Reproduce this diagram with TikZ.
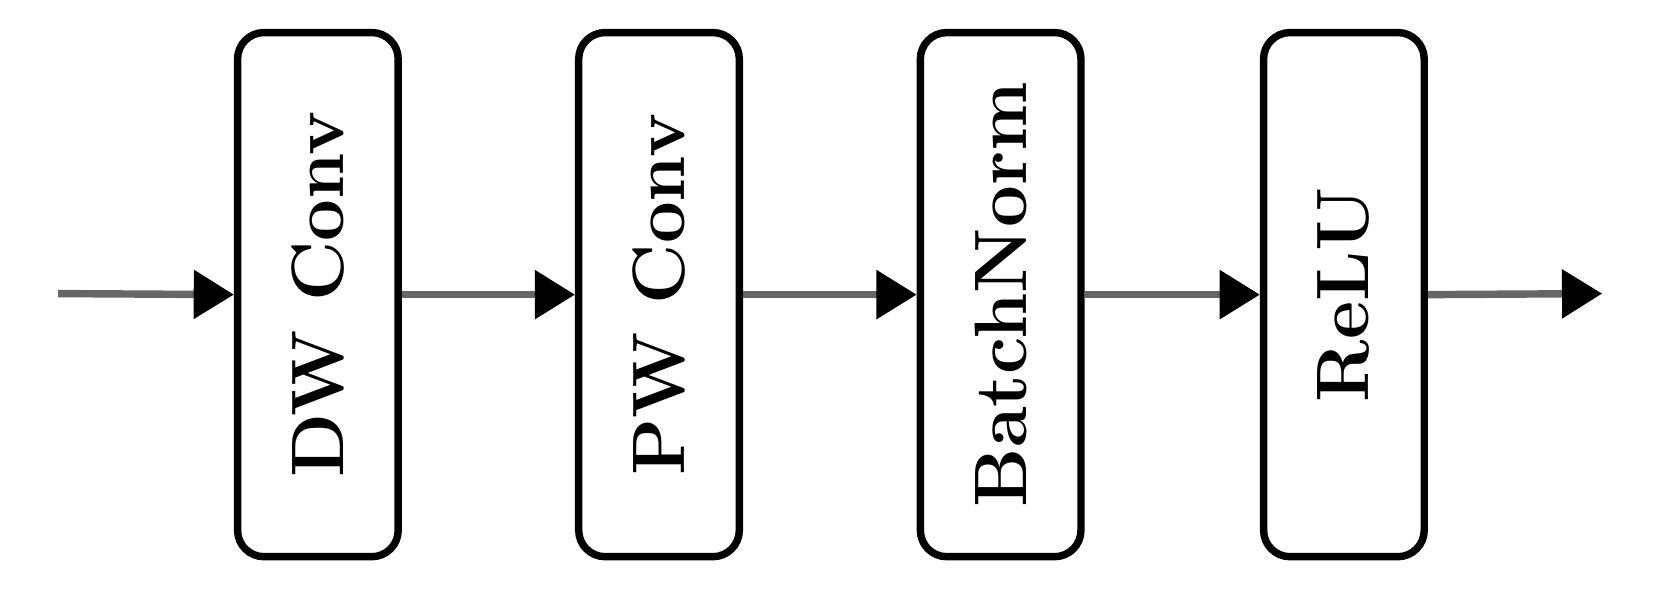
\documentclass[tikz,border=0pt]{standalone}
\usetikzlibrary{arrows.meta}
\begin{document}
\begin{tikzpicture}[x=0.01cm,y=0.01cm,
  blk/.style={draw=black,line width=2pt,rounded corners=0.25cm,fill=white,minimum width=1.52cm,minimum height=4.96cm,inner sep=0pt,font=\bfseries\fontsize{20}{20}\selectfont},
  conn/.style={draw=black!60,line width=2pt,-{Triangle[length=0.38cm,width=0.45cm,fill=black,color=black]}}]
\useasboundingbox (0,0) rectangle (1568,568);
\node[blk] (a) at (301,289) {\rotatebox{90}{DW Conv}};
\node[blk] (b) at (624,289) {\rotatebox{90}{PW Conv}};
\node[blk] (c) at (947.5,289) {\rotatebox{90}{BatchNorm}};
\node[blk] (d) at (1272.5,289) {\rotatebox{90}{ReLU}};
\coordinate (s) at (55,290);
\coordinate (e) at (1517,290);
\draw[conn] (s) -- (a.west);
\draw[conn] (a.east) -- (b.west);
\draw[conn] (b.east) -- (c.west);
\draw[conn] (c.east) -- (d.west);
\draw[conn] (d.east) -- (e);
\end{tikzpicture}
\end{document}
